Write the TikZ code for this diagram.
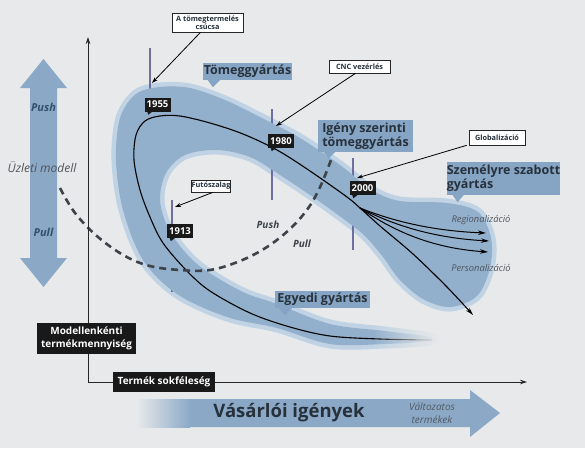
\documentclass[tikz,border=0pt]{standalone}
\usepackage{fontspec}
\setmainfont{Open Sans}
\usetikzlibrary{arrows.meta,fadings,calc}
\definecolor{bg}{HTML}{E7E9EA}
\definecolor{band}{HTML}{92AFCC}
\definecolor{halo}{HTML}{C0D3E4}
\definecolor{lblue}{HTML}{86A5C4}
\definecolor{arrowblue}{HTML}{8BA9C7}
\definecolor{darktext}{HTML}{27313C}
\definecolor{tickc}{HTML}{6E6FA0}
\definecolor{dashc}{HTML}{3D4349}
\definecolor{pushc}{HTML}{34506F}
\definecolor{grayt}{HTML}{4F555B}
\tikzfading[name=tailfade, left color=transparent!100, right color=transparent!0]
\begin{document}
\begin{tikzpicture}[x=1pt,y=-1pt,
  lbl/.style={fill=lblue, text=darktext, font=\fontsize{12.5}{14}\selectfont\bfseries, inner sep=0pt, align=left},
  year/.style={fill=black!90, text=white, font=\fontsize{9.5}{10}\selectfont\bfseries, minimum width=26pt, minimum height=14pt, inner sep=0pt},
  call/.style={fill=white, draw=black!85, line width=0.6pt, text=darktext, font=\fontsize{7.3}{8}\selectfont\bfseries, inner sep=0pt, align=center},
  blk/.style={fill=black!90, text=white, font=\fontsize{10}{13}\selectfont\bfseries, inner sep=0pt, align=center},
  callarrow/.style={draw=black, line width=0.8pt, -{Stealth[length=6pt,width=4pt]}},
  axisline/.style={draw=black!85, line width=0.9pt, -{Stealth[length=7pt,width=4.5pt]}},
  tickline/.style={draw=tickc, line width=1.2pt},
  curve/.style={draw=black, line width=1.1pt},
  branch/.style={draw=black, line width=1pt, -{Stealth[length=8pt,width=4.5pt]}},
  itg/.style={text=grayt, font=\fontsize{9.3}{10}\selectfont\itshape, inner sep=0pt},
  pp/.style={font=\fontsize{10}{10}\selectfont\bfseries\itshape, inner sep=0pt}
]
\fill[bg] (0,0) rectangle (585,448);
\useasboundingbox (0,0) rectangle (585,448);

% left double arrow
\fill[arrowblue] (43.5,59) -- (67,88) -- (57,88) -- (57,258) -- (67,258) -- (43.5,287) -- (20,258) -- (30,258) -- (30,88) -- (20,88) -- cycle;
\node[pp, text=pushc, font=\fontsize{11}{11}\selectfont\bfseries\itshape] (pushL) at (43.5,107) {Push};
\node[pp, text=pushc, font=\fontsize{11}{11}\selectfont\bfseries\itshape] (pullL) at (43.5,232) {Pull};
\node[text=grayt, font=\fontsize{12}{12}\selectfont\itshape, inner sep=0pt] (uzleti) at (42,167) {Üzleti modell};

% bottom arrow
\shade[left color=bg, right color=arrowblue] (137,399) rectangle (190,427);
\fill[arrowblue] (189.5,399) -- (470,399) -- (470,390) -- (500,413) -- (470,437) -- (470,427) -- (189.5,427) -- cycle;
\node[text=darktext, font=\fontsize{18.5}{20}\selectfont\bfseries, inner sep=0pt] (vas) at (289,413) {Vásárlói igények};
\node[text=darktext!80, font=\fontsize{10}{13}\selectfont\itshape, inner sep=0pt, align=center] (valt) at (432,413) {Változatos\\termékek};

% band
\def\bandpath{plot[smooth cycle, tension=0.55] coordinates {
 (430,341) (385,344) (330,344) (277,328) (227,317) (177,294) (143,260) (123,210) (116,160) (120,118) (136,94) (160,87) (190,88) (225,100) (260,117) (300,138) (340,165) (372,190) (400,201) (447,203) (478,212) (491,238) (490,268) (477,296) (450,307) (423,299) (400,280) (383,257) (365,236) (345,220) (313,197) (280,175) (250,157) (217,150) (185,155) (166,173) (160,200) (168,228) (185,252) (205,270) (243,292) (277,304) (330,324) (385,331) (430,337)}}
\draw[halo, line width=9pt, line join=round] \bandpath;

% ticks (behind band)
\draw[tickline] (150,48) -- (150,90);
\draw[tickline] (272,109) -- (272,200);
\draw[tickline] (172,200) -- (172,292);
\draw[tickline] (353,158) -- (353,250);

\fill[band] \bandpath;

% curves
\draw[curve, -{Stealth[length=8pt,width=4.5pt]}] plot[smooth, tension=0.55] coordinates {
 (432,340) (380,339) (330,336) (290,327) (250,313) (210,291) (187,271) (163,243) (150,217) (140,190) (134,160) (136,135) (145,121) (160,116) (180,116) (210,123) (243,134) (277,150) (310,171) (347,197) (360,208) (380,226) (413,254) (447,287) (473,315)};
\coordinate (bp) at (360,208);
\coordinate (r1) at (486,233);
\coordinate (r2) at (489,241);
\coordinate (r3) at (488,252);
\draw[branch] (bp) .. controls (395,222) and (435,231) .. (r1);
\draw[branch] (bp) .. controls (395,226) and (435,238) .. (r2);
\draw[branch] (bp) .. controls (392,230) and (430,248) .. (r3);

% tail fade
\fill[bg, path fading=tailfade] (372,316) rectangle (438,358);
\fill[bg] (437.5,316) rectangle (445,358);

% dashed push-pull boundary
\draw[dashc, line width=2.6pt, dash pattern=on 7pt off 5pt] plot[smooth, tension=0.6] coordinates {
 (60,188) (75,213) (98,237) (125,256) (150,266) (180,270) (210,270) (240,261) (267,247) (291,228) (309,207) (321,185) (331,160)};
\node[pp, text=dashc] (pushM) at (268,225) {Push};
\node[pp, text=dashc] (pullM) at (302,244) {Pull};

% axes
\coordinate (O) at (88,382);
\coordinate (ytip) at (88,37);
\coordinate (xtip) at (527,382);
\draw[axisline] (O) -- (ytip);
\draw[axisline] (O) -- (xtip);

% blue labels
\node[lbl, minimum width=89pt, minimum height=17pt, align=center] (tg) at (247.5,71.5) {Tömeggyártás};
\fill[lblue] ([xshift=5pt]tg.south west) -- ([xshift=17pt]tg.south west) -- ([xshift=10pt,yshift=-7pt]tg.south west) -- cycle;
\node[lbl, minimum width=95pt, minimum height=32pt] (igeny) at (365.5,136) {Igény szerinti\\tömeggyártás};
\fill[lblue] ([xshift=6pt]igeny.south west) -- ([xshift=17pt]igeny.south west) -- ([xshift=11pt,yshift=-6pt]igeny.south west) -- cycle;
\node[lbl, minimum width=113pt, minimum height=33pt] (szem) at (503.5,178.5) {Személyre szabott\\gyártás};
\fill[lblue] ([xshift=6pt]szem.south west) -- ([xshift=17pt]szem.south west) -- ([xshift=11pt,yshift=-7pt]szem.south west) -- cycle;
\node[lbl, minimum width=95pt, minimum height=17pt, align=center] (egyedi) at (322.5,299.5) {Egyedi gyártás};
\fill[lblue] ([xshift=4pt]egyedi.south west) -- ([xshift=17pt]egyedi.south west) -- ([xshift=10pt,yshift=-7pt]egyedi.south west) -- cycle;

% years
\node[year] (y1955) at (157.5,104.5) {1955};
\node[year] (y1980) at (281,141) {1980};
\node[year] (y1913) at (180,231) {1913};
\node[year] (y2000) at (362.5,188) {2000};
\foreach \n in {y1955,y1980,y1913,y2000}{
  \fill[black!90] ([xshift=3pt]\n.south west) -- ([xshift=8pt]\n.south west) -- ([xshift=4pt,yshift=-3pt]\n.south west) -- cycle;
}

% callouts
\node[call, minimum width=71pt, minimum height=19pt] (cA) at (207.5,22.5) {A tömegtermelés\\csúcsa};
\node[call, minimum width=61pt, minimum height=13pt] (cCNC) at (359.5,66.5) {CNC vezérlés};
\node[call, minimum width=56pt, minimum height=15pt] (cGlob) at (497,137.5) {Globalizáció};
\node[call, minimum width=39pt, minimum height=12pt] (cFut) at (211,186) {Futószalag};
\coordinate (t1955) at (152,83);
\coordinate (t1980) at (276,126);
\coordinate (t2000) at (357,178);
\coordinate (t1913) at (175,207);
\draw[callarrow] ([xshift=-7pt]cA.south) -- (t1955);
\draw[callarrow] ([xshift=-4pt]cCNC.south) -- (t1980);
\draw[callarrow] ([xshift=-2pt]cGlob.south west) -- (t2000);
\draw[callarrow] ([xshift=2pt]cFut.south) -- (t1913);

% italic gray labels
\node[itg] (reg) at (481,220) {Regionalizáció};
\node[itg] (pers) at (481,268) {Personalizáció};

% axis labels
\node[blk, minimum width=99pt, minimum height=31pt] (modell) at (86.5,338.5) {Modellenkénti\\termékmennyiség};
\node[blk, minimum width=102pt, minimum height=20pt] (termek) at (164,382) {Termék sokféleség};
\end{tikzpicture}
\end{document}
